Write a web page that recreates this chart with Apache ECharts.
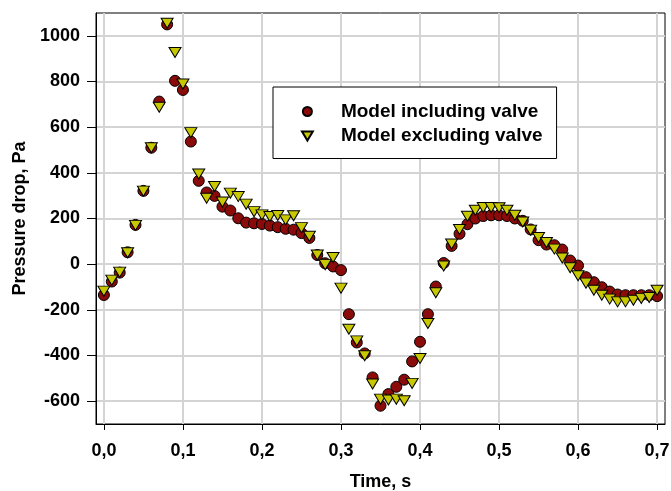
<!DOCTYPE html>
<html>
<head>
<meta charset="utf-8">
<script src="https://cdn.jsdelivr.net/npm/echarts@6/dist/echarts.min.js"></script>
<style>
html,body{margin:0;padding:0;background:#fff;}
#chart{width:671px;height:491px;}
</style>
</head>
<body>
<div id="chart"></div>
<script>
var times = [0.00,0.01,0.02,0.03,0.04,0.05,0.06,0.07,0.08,0.09,
             0.10,0.11,0.12,0.13,0.14,0.15,0.16,0.17,0.18,0.19,
             0.20,0.21,0.22,0.23,0.24,0.25,0.26,0.27,0.28,0.29,
             0.30,0.31,0.32,0.33,0.34,0.35,0.36,0.37,0.38,0.39,
             0.40,0.41,0.42,0.43,0.44,0.45,0.46,0.47,0.48,0.49,
             0.50,0.51,0.52,0.53,0.54,0.55,0.56,0.57,0.58,0.59,
             0.60,0.61,0.62,0.63,0.64,0.65,0.66,0.67,0.68,0.69,0.70];
var includingValve = [-135,-76,-37,52,172,321,510,712,1050,803,
                      763,537,365,314,299,252,235,201,182,179,
                      176,169,162,155,151,136,115,40,4,-10,
                      -26,-219,-343,-391,-496,-620,-569,-537,-506,-426,
                      -340,-219,-98,5,80,133,175,200,211,214,
                      214,211,200,190,152,105,86,83,64,16,
                      -6,-57,-79,-101,-120,-133,-136,-136,-136,-136,-140];
var excludingValve = [-118,-70,-35,50,170,320,510,687,1055,927,
                      789,576,395,289,340,272,311,296,263,230,
                      216,209,213,194,212,160,122,40,-2,29,
                      -105,-285,-336,-401,-525,-591,-595,-591,-598,-522,
                      -413,-260,-125,-8,88,152,210,236,248,248,
                      247,236,214,185,149,117,95,66,27,-16,
                      -51,-83,-114,-136,-153,-165,-165,-158,-150,-146,-114];
var xTicks = [0,0.1,0.2,0.3,0.4,0.5,0.6,0.7];
var yTicks = [-600,-400,-200,0,200,400,600,800,1000];
var seriesNames = ['Model including valve','Model excluding valve'];

function pairs(xs, ys){ return xs.map(function(x,i){ return [x, ys[i]]; }); }

var triPath = 'path://M0,0 L12,0 L6,10 Z';
var font = 'Liberation Sans, Arial, sans-serif';

var chart = echarts.init(document.getElementById('chart'), null, {renderer:'canvas'});
chart.setOption({
  animation: false,
  backgroundColor: '#ffffff',
  grid: {left: 96, right: 6, top: 13, bottom: 67, show: true, borderColor: '#000', borderWidth: 1,
         containLabel: false, outerBoundsMode: 'none'},
  legend: {
    left: 273, top: 87, orient: 'vertical',
    padding: [14, 14, 12, 28],
    itemGap: 3.5,
    itemWidth: 57, itemHeight: 9,
    borderColor: '#000', borderWidth: 1, backgroundColor: '#fff',
    textStyle: {fontFamily: font, fontSize: 19, fontWeight: 'bold', color: '#000', lineHeight: 21},
    data: [
      {name: seriesNames[0], icon: 'circle'},
      {name: seriesNames[1], icon: triPath}
    ]
  },
  xAxis: {
    type: 'value', min: -0.01, max: 0.71,
    name: 'Time, s', nameLocation: 'middle', nameGap: 49,
    nameTextStyle: {fontFamily: font, fontSize: 18, fontWeight: 'bold', color: '#000'},
    axisLine: {show: true, onZero: false, lineStyle: {color: '#000', width: 1}},
    axisTick: {show: true, length: 6, customValues: xTicks, lineStyle: {color: '#000'}},
    axisLabel: {customValues: xTicks, margin: 18, fontFamily: font, fontSize: 18, fontWeight: 'bold', color: '#000',
      formatter: function(v){ return v.toFixed(1).replace('.', ','); }},
    splitLine: {show: true, lineStyle: {color: '#d4d4d4', width: 2}}
  },
  yAxis: {
    type: 'value', min: -700, max: 1100,
    name: 'Pressure drop, Pa', nameLocation: 'middle', nameGap: 44, nameRotate: 90,
    nameTextStyle: {fontFamily: font, fontSize: 18, fontWeight: 'bold', color: '#000'},
    axisLine: {show: true, onZero: false, lineStyle: {color: '#000', width: 1}},
    axisTick: {show: true, length: 9, customValues: yTicks, lineStyle: {color: '#000'}},
    axisLabel: {customValues: yTicks, margin: 16, fontFamily: font, fontSize: 18, fontWeight: 'bold', color: '#000',
      formatter: function(v){ return String(v); }},
    splitLine: {show: true, lineStyle: {color: '#d4d4d4', width: 2}}
  },
  series: [
    {
      name: seriesNames[0], type: 'scatter', symbol: 'circle', symbolSize: 11,
      itemStyle: {color: '#8b0a0a', borderColor: '#000', borderWidth: 1, opacity: 1},
      data: pairs(times, includingValve), z: 2
    },
    {
      name: seriesNames[1], type: 'scatter', symbol: triPath, symbolSize: [12, 10],
      itemStyle: {color: '#c8c800', borderColor: '#000', borderWidth: 1, opacity: 1},
      data: pairs(times, excludingValve), z: 3
    }
  ]
});
</script>
</body>
</html>
